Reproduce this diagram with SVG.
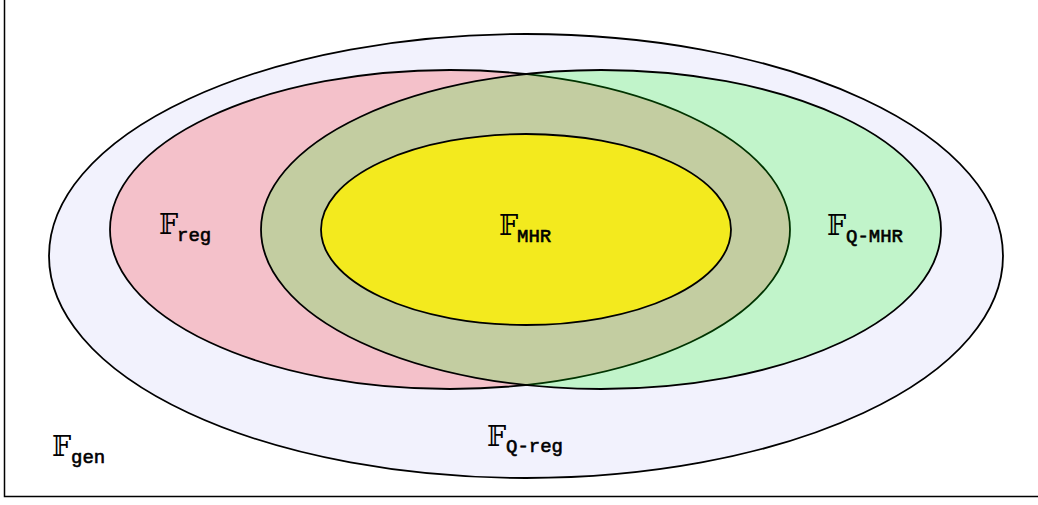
<svg xmlns="http://www.w3.org/2000/svg" width="1038" height="505" viewBox="0 0 1038 505">
<style>
.set{stroke:#000;stroke-width:1.8}
.bb{font-family:"DejaVu Serif","DejaVu Sans",serif;font-size:27px;fill:#000}
.sub{font-family:"Liberation Mono","DejaVu Sans Mono",monospace;font-size:19px;fill:#000;stroke:#000;stroke-width:0.6}
</style>
<rect x="0" y="0" width="1038" height="505" fill="#fff"/>
<g id="frame">
<path d="M4.5,0 V496.5 H1038" fill="none" stroke="#000" stroke-width="1.5"/>
</g>
<g id="set-qreg">
<ellipse class="set" cx="526" cy="256" rx="477" ry="222" fill="#F2F2FD"/>
<text x="487" y="446"><tspan class="bb">𝔽</tspan><tspan class="sub" x="506" y="452">Q-reg</tspan></text>
</g>
<g id="set-reg">
<ellipse class="set" cx="450" cy="229.5" rx="340" ry="159.5" fill="#FF0000" fill-opacity="0.2"/>
<text x="159" y="234"><tspan class="bb">𝔽</tspan><tspan class="sub" x="177" y="241">reg</tspan></text>
</g>
<g id="set-qmhr">
<ellipse class="set" cx="601" cy="229.5" rx="340" ry="159.5" fill="#00FF00" fill-opacity="0.2"/>
<text x="827" y="235"><tspan class="bb">𝔽</tspan><tspan class="sub" x="846" y="242">Q-MHR</tspan></text>
</g>
<g id="set-mhr">
<ellipse class="set" cx="526" cy="229.5" rx="205" ry="95.5" fill="#F3EA1E"/>
<text x="499" y="235"><tspan class="bb">𝔽</tspan><tspan class="sub" x="517" y="242">MHR</tspan></text>
</g>
<g id="set-gen">
<text x="52" y="456"><tspan class="bb">𝔽</tspan><tspan class="sub" x="71" y="463">gen</tspan></text>
</g>
<g id="connectors"></g>
</svg>
